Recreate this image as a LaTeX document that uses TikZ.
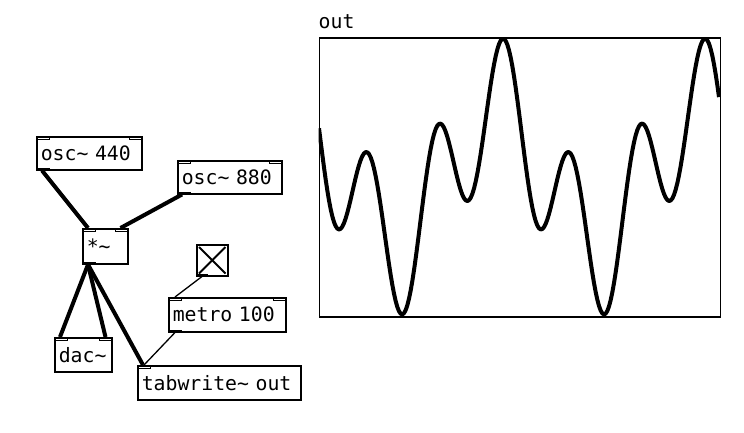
\documentclass[tikz,border=0pt]{standalone}
\usepackage{fontspec}
\newfontfamily\pdfont[WordSpace={1,0,0}]{DejaVu Sans Mono}
\usetikzlibrary{positioning}

\begin{document}
\begin{tikzpicture}[
  x=1pt, y=-1pt,
  pdobj/.style={draw=black, line width=1.5pt, anchor=north west, inner xsep=4pt, inner ysep=0pt,
                minimum height=34pt, align=left, font=\pdfont\fontsize{19.8}{22}\selectfont},
  port/.style={draw=black, line width=1pt},
  outport/.style={draw=black, fill=black, line width=0.8pt},
  sig/.style={line width=4pt},
  ctl/.style={line width=1.3pt}
]
  \useasboundingbox (0,0) rectangle (744,432);

  % objects
  \node[pdobj, text width=97pt, minimum height=33pt] (osc440) at (36,136) {osc\textasciitilde{} 440};
  \node[pdobj, text width=96pt, minimum height=33pt] (osc880) at (177,160) {osc\textasciitilde{} 880};
  \node[pdobj, text width=37pt, minimum height=35pt] (mul) at (82,228) {*\textasciitilde};
  \node[draw=black, line width=1.5pt, anchor=north west, inner sep=0pt, minimum size=31pt] (toggle) at (196,244) {};
  \node[pdobj, text width=109pt] (metro) at (168,297) {metro 100};
  \node[pdobj, text width=49pt] (dac) at (54,337) {dac\textasciitilde};
  \node[pdobj, text width=155pt] (tabw) at (137,365) {tabwrite\textasciitilde{} out};

  % toggle cross
  \draw[line width=1.8pt] ([xshift=3pt,yshift=-3pt]toggle.north west) -- ([xshift=-3pt,yshift=3pt]toggle.south east);
  \draw[line width=1.8pt] ([xshift=-3pt,yshift=-3pt]toggle.north east) -- ([xshift=3pt,yshift=3pt]toggle.south west);

  % inlets and outlets
  \draw[port] (osc440.north west) rectangle ++(13,3);
  \draw[port] (osc440.north east) rectangle ++(-13,3);
  \draw[outport] (osc440.south west) rectangle ++(13,-2);
  \draw[port] (osc880.north west) rectangle ++(13,3);
  \draw[port] (osc880.north east) rectangle ++(-13,3);
  \draw[outport] (osc880.south west) rectangle ++(13,-2);
  \draw[port] (mul.north west) rectangle ++(13,3);
  \draw[port] (mul.north east) rectangle ++(-13,3);
  \draw[outport] (mul.south west) rectangle ++(13,-2);
  \draw[outport] (toggle.south west) rectangle ++(11,-2);
  \draw[port] (metro.north west) rectangle ++(13,3);
  \draw[port] (metro.north east) rectangle ++(-13,3);
  \draw[outport] (metro.south west) rectangle ++(13,-2);
  \draw[port] (dac.north west) rectangle ++(13,3);
  \draw[port] (dac.north east) rectangle ++(-13,3);
  \draw[port] (tabw.north west) rectangle ++(13,3);

  % signal connections
  \draw[sig] ([xshift=6pt]osc440.south west) -- ([xshift=6pt]mul.north west);
  \draw[sig] ([xshift=5pt]osc880.south west) -- ([xshift=-8pt]mul.north east);
  \draw[sig] ([xshift=6pt]mul.south west) -- ([xshift=6pt]dac.north west);
  \draw[sig] ([xshift=6pt]mul.south west) -- ([xshift=-7pt]dac.north east);
  \draw[sig] ([xshift=6pt]mul.south west) -- ([xshift=6pt]tabw.north west);

  % control connections
  \draw[ctl] ([xshift=6pt]toggle.south west) -- ([xshift=7pt]metro.north west);
  \draw[ctl] ([xshift=7pt]metro.south west) -- ([xshift=7pt]tabw.north west);

  % array graph
  \node[draw=black, line width=1.5pt, anchor=north west, inner sep=0pt,
        minimum width=401pt, minimum height=279pt] (graph) at (318.5,37) {};
  \node[anchor=base west, inner sep=0pt, font=\pdfont\fontsize{19.8}{22}\selectfont]
        (outlabel) at ([yshift=9pt]graph.north west) {out};
  \begin{scope}
    \clip (graph.south west) rectangle (graph.north east);
    \draw[line width=4pt, line join=round] plot[domain=319:719, samples=241]
      (\x, {176.5 - 69.75*(cos((\x-502)*1.7822+9.7) + cos(3*(\x-502)*1.7822-9.7))});
  \end{scope}
\end{tikzpicture}
\end{document}
